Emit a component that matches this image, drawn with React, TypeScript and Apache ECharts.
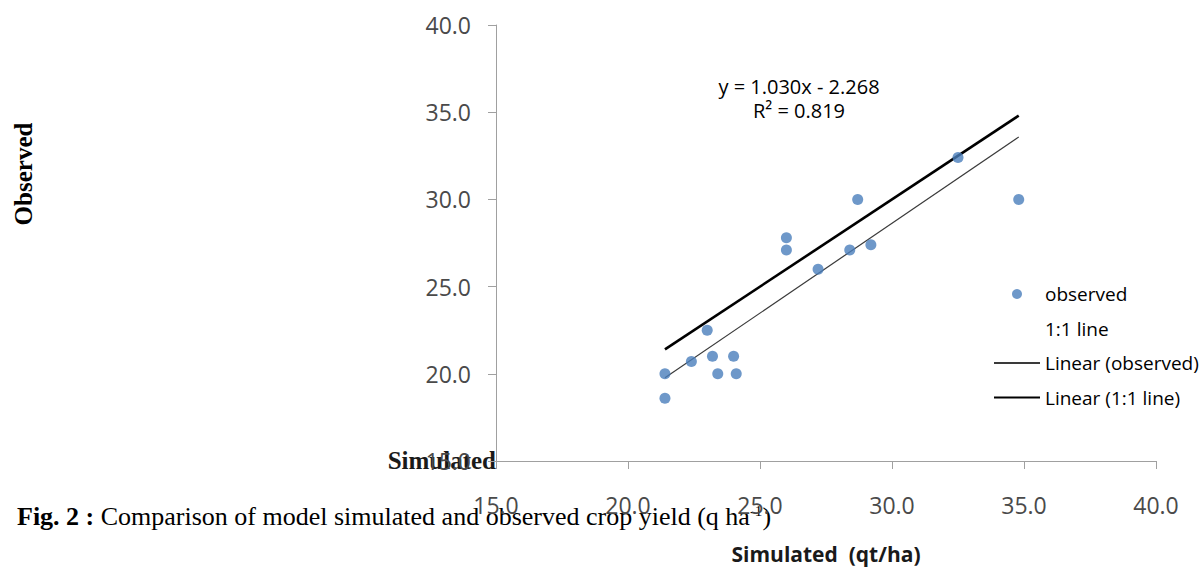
import React, { useEffect, useRef } from "react";
import * as echarts from "echarts";

const simulated = [32.5, 28.7, 26.0, 26.0, 28.4, 29.2, 27.2, 23.0, 22.4, 23.2, 24.0, 21.4, 23.4, 24.1, 21.4, 34.8];
const observed = [32.4, 30.0, 27.8, 27.1, 27.1, 27.4, 26.0, 22.5, 20.7, 21.0, 21.0, 20.0, 20.0, 20.0, 18.6, 30.0];
const axisTicks = [15, 20, 25, 30, 35, 40];
const trendSlope = 1.03;
const trendIntercept = -2.268;
const trendR2 = 0.819;
const legendNames = ["observed", "1:1 line", "Linear (observed)", "Linear (1:1 line)"];

export default function App() {
  const ref = useRef<HTMLDivElement>(null);
  useEffect(() => {
    if (!ref.current) return;
    const chart = echarts.init(ref.current, null, { renderer: "svg" });
    const xMin = Math.min(...simulated);
    const xMax = Math.max(...simulated);
    const scatterData = simulated.map((x, i) => [x, observed[i]]);
    const oneToOne = simulated.map((x) => [x, x]);
    const fitObserved = [
      [xMin, trendSlope * xMin + trendIntercept],
      [xMax, trendSlope * xMax + trendIntercept],
    ];
    const fitOne = [
      [xMin, xMin],
      [xMax, xMax],
    ];
    const axisCommon = {
      type: "value",
      min: axisTicks[0],
      max: axisTicks[axisTicks.length - 1],
      interval: 5,
      splitLine: { show: false },
      axisLine: { show: true, onZero: false, lineStyle: { color: "#a0a0a0", width: 1 } },
      axisTick: { show: true, length: 8, lineStyle: { color: "#a0a0a0" } },
    };
    chart.setOption({
      animation: false,
      textStyle: { fontFamily: "Open Sans" },
      grid: {
        left: 496,
        right: 47,
        top: 25,
        bottom: 107,
        containLabel: false,
        outerBoundsMode: "none",
      },
      xAxis: {
        ...axisCommon,
        name: "Simulated  (qt/ha)",
        nameLocation: "middle",
        nameGap: 82,
        nameTextStyle: { fontSize: 21, fontWeight: "bold", color: "#1a1a1a", fontFamily: "Open Sans" },
        axisLabel: {
          margin: 32,
          fontSize: 23,
          color: "#4a4a4a",
          fontFamily: "Open Sans",
          formatter: (v: number) => v.toFixed(1),
        },
      },
      yAxis: {
        ...axisCommon,
        axisLabel: {
          margin: 25,
          fontSize: 23,
          color: "#4a4a4a",
          fontFamily: "Open Sans",
          formatter: (v: number) => v.toFixed(1),
        },
      },
      legend: {
        orient: "vertical",
        left: 988,
        top: 279,
        itemWidth: 46,
        itemHeight: 10,
        itemGap: 14.5,
        textStyle: { fontSize: 19, color: "#000", fontFamily: "Open Sans", lineHeight: 20 },
        data: [
          { name: legendNames[0] },
          { name: legendNames[1], itemStyle: { opacity: 0 } },
          { name: legendNames[2], itemStyle: { opacity: 0 } },
          { name: legendNames[3], itemStyle: { opacity: 0 } },
        ],
      },
      series: [
        {
          name: legendNames[0],
          type: "scatter",
          data: scatterData,
          symbol: "circle",
          symbolSize: 11,
          itemStyle: { color: "#4a7ebb" },
          z: 3,
        },
        {
          name: legendNames[1],
          type: "scatter",
          data: oneToOne,
          symbolSize: 0,
          itemStyle: { color: "#c0504d", opacity: 0 },
        },
        {
          name: legendNames[2],
          type: "line",
          data: fitObserved,
          symbol: "none",
          lineStyle: { color: "#3a3a3a", width: 1.2 },
          itemStyle: { color: "#3a3a3a" },
          z: 2,
        },
        {
          name: legendNames[3],
          type: "line",
          data: fitOne,
          symbol: "none",
          lineStyle: { color: "#000", width: 2.6 },
          itemStyle: { color: "#000" },
          z: 2,
        },
      ],
      graphic: [
        {
          type: "text",
          x: 799,
          y: 86,
          style: {
            text: `y = ${trendSlope.toFixed(3)}x - ${Math.abs(trendIntercept).toFixed(3)}`,
            fontSize: 20,
            fontFamily: "Open Sans",
            fill: "#000",
            textAlign: "center",
            textVerticalAlign: "middle",
          },
        },
        {
          type: "text",
          x: 799,
          y: 110,
          style: {
            text: `R² = ${trendR2.toFixed(3)}`,
            fontSize: 20,
            fontFamily: "Open Sans",
            fill: "#000",
            textAlign: "center",
            textVerticalAlign: "middle",
          },
        },
        {
          type: "text",
          x: 23,
          y: 174,
          rotation: Math.PI / 2,
          style: {
            text: "Observed",
            fontSize: 25,
            fontWeight: "bold",
            fontFamily: "Liberation Serif",
            fill: "#000",
            textAlign: "center",
            textVerticalAlign: "middle",
          },
        },
        {
          type: "text",
          x: 496,
          y: 460,
          style: {
            text: "Simulated",
            fontSize: 25,
            fontWeight: "bold",
            fontFamily: "Liberation Serif",
            fill: "#1a1a1a",
            textAlign: "right",
            textVerticalAlign: "middle",
          },
        },
        {
          type: "text",
          x: 17,
          y: 516,
          style: {
            text: "{b|Fig. 2 :} Comparison of model simulated and observed crop yield (q ha{s|-1})",
            fontSize: 26,
            fontFamily: "Liberation Serif",
            fill: "#000",
            textAlign: "left",
            textVerticalAlign: "middle",
            rich: {
              b: { fontSize: 26, fontWeight: "bold", fontFamily: "Liberation Serif", fill: "#000" },
              s: { fontSize: 15, fontFamily: "Liberation Serif", fill: "#000", verticalAlign: "top" },
            },
          },
        },
      ],
    });
    return () => chart.dispose();
  }, []);
  return (
    <div
      ref={ref}
      style={{ position: "fixed", left: 0, top: 0, width: 1203, height: 568, background: "#fff" }}
    />
  );
}
